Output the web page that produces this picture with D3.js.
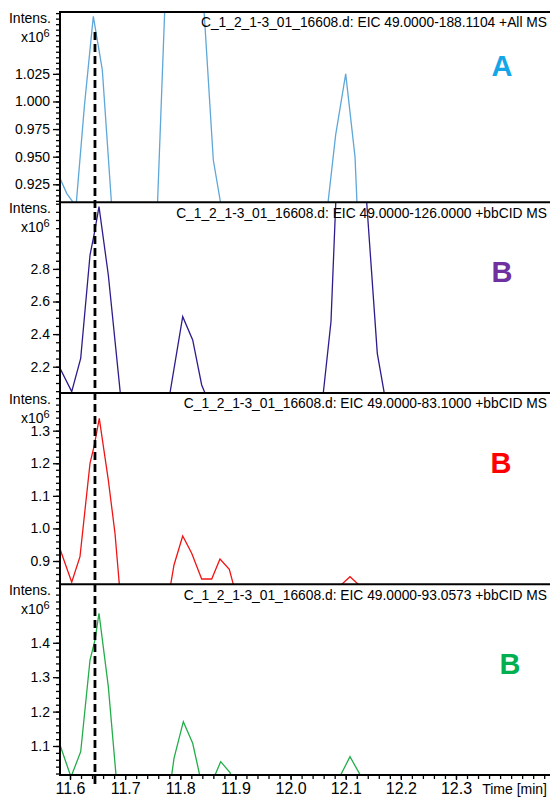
<!DOCTYPE html>
<html>
<head>
<meta charset="utf-8">
<script src="https://cdn.jsdelivr.net/npm/d3@7"></script>
<style>
  body { margin: 0; background: #fff; }
  svg text { font-family: "Liberation Sans", Arial, sans-serif; fill: #000; }
</style>
</head>
<body>
<svg id="chart" width="550" height="801"></svg>
<script>
// retention time (min) of each sample, intensity in units of 1e6
var timesA  = [11.5819, 11.5940, 11.6109, 11.6263, 11.6423, 11.6586, 11.6756, 11.695, 11.72, 11.74, 11.7578, 11.7754, 11.7922, 11.8086, 11.8249, 11.8421, 11.8599, 11.8769, 11.90, 12.00, 12.0652, 12.0818, 12.1000, 12.1169, 12.1341, 12.20, 12.30, 12.40, 12.48];
var valuesA = [0.9304, 0.9168, 0.905, 0.9969, 1.077, 1.0286, 0.905, 0.89, 0.885, 0.89, 0.895, 1.131, 1.6, 1.75, 1.45, 1.09, 0.947, 0.897, 0.88, 0.88, 0.8963, 0.9697, 1.025, 0.9498, 0.75, 0.86, 0.86, 0.86, 0.86];

var timesB1  = [11.5819, 11.6031, 11.6194, 11.6363, 11.6441, 11.6526, 11.6695, 11.6925, 11.72, 11.76, 11.7804, 11.8044, 11.8225, 11.8388, 11.8557, 11.95, 12.0561, 12.0733, 12.0906, 12.1078, 12.1250, 12.1368, 12.1573, 12.1745, 12.30, 12.48];
var valuesB1 = [2.19, 2.047, 2.2515, 2.885, 3.018, 3.182, 2.7626, 1.996, 1.95, 1.95, 2.02, 2.507, 2.364, 2.088, 1.95, 1.95, 1.936, 2.476, 3.934, 4.3, 4.1, 3.27, 2.282, 1.95, 1.95, 1.95];

var timesB2  = [11.5819, 11.6031, 11.6181, 11.6363, 11.6441, 11.6531, 11.6695, 11.6816, 11.6979, 11.74, 11.7723, 11.7886, 11.8044, 11.8207, 11.8388, 11.8570, 11.8720, 11.8889, 11.9056, 12.00, 12.0906, 12.1078, 12.1250, 12.20, 12.48];
var valuesB2 = [0.9368, 0.8347, 0.9132, 1.1997, 1.2558, 1.3377, 1.1485, 0.985, 0.66, 0.72, 0.726, 0.8877, 0.9767, 0.9236, 0.8448, 0.8448, 0.9061, 0.8745, 0.769, 0.76, 0.825, 0.8518, 0.825, 0.76, 0.76];

var timesB3  = [11.5819, 11.6018, 11.6194, 11.6363, 11.6453, 11.6526, 11.6695, 11.6865, 11.73, 11.7723, 11.7886, 11.8055, 11.8225, 11.8394, 11.8557, 11.8733, 11.8902, 11.9074, 12.00, 12.0897, 12.1078, 12.1277, 12.20, 12.48];
var valuesB3 = [1.1029, 1.01, 1.0834, 1.35, 1.408, 1.4858, 1.2724, 0.959, 0.95, 0.873, 1.0642, 1.1706, 1.1078, 0.985, 0.988, 1.0544, 1.0224, 0.943, 0.95, 1.012, 1.0689, 1.012, 0.95, 0.95];

var titles = [
  "C_1_2_1-3_01_16608.d: EIC 49.0000-188.1104 +All MS",
  "C_1_2_1-3_01_16608.d: EIC 49.0000-126.0000 +bbCID MS",
  "C_1_2_1-3_01_16608.d: EIC 49.0000-83.1000 +bbCID MS",
  "C_1_2_1-3_01_16608.d: EIC 49.0000-93.0573 +bbCID MS"
];
var letters = ["A", "B", "B", "B"];

var yDomains = [[0.9087, 1.081], [2.0387, 3.2086], [0.8285, 1.4156], [1.0157, 1.570]];
var yTicks = [[0.925, 0.950, 0.975, 1.000, 1.025], [2.2, 2.4, 2.6, 2.8], [0.9, 1.0, 1.1, 1.2, 1.3], [1.1, 1.2, 1.3, 1.4]];
var yMinorStep = [0.005, 0.05, 0.02, 0.02];
var yFormats = [".3f", ".1f", ".1f", ".1f"];

var xTicks = [11.6, 11.7, 11.8, 11.9, 12.0, 12.1, 12.2, 12.3];
var markerTime = 11.6453;

var traceColors = ["#5ea7d8", "#2d1c8c", "#f01414", "#22ad48"];
var letterColors = ["#15a6e8", "#7030a0", "#ff0000", "#00b050"];

var series = [
  {t: timesA, v: valuesA},
  {t: timesB1, v: valuesB1},
  {t: timesB2, v: valuesB2},
  {t: timesB3, v: valuesB3}
];

var left = 60, right = 550;
var panelTops = [12, 202.3, 393, 584.3];
var bottom = 775;
var letterPos = [[502, 76], [502, 282.3], [501, 473.3], [510, 674.3]];

var svg = d3.select("#chart");

var x = d3.scaleLinear()
  .domain([11.6 - 10 / 551.4, 11.6 + 480 / 551.4])
  .range([left, right]);

var defs = svg.append("defs");

series.forEach(function(s, i) {
  var top = panelTops[i];
  var bot = i < 3 ? panelTops[i + 1] : bottom;
  var y = d3.scaleLinear().domain(yDomains[i]).range([bot, top]);

  defs.append("clipPath").attr("id", "clip" + i)
    .append("rect").attr("x", left).attr("y", top)
    .attr("width", right - left).attr("height", bot - top);

  var g = svg.append("g");

  // minor ticks
  var minor = d3.range(Math.ceil(yDomains[i][0] / yMinorStep[i]), Math.floor(yDomains[i][1] / yMinorStep[i]) + 1)
    .map(function(k) { return k * yMinorStep[i]; });
  g.append("g").attr("transform", "translate(" + left + ",0)")
    .call(d3.axisLeft(y).tickValues(minor).tickSize(4).tickFormat(""))
    .call(function(a) { a.select(".domain").remove(); a.selectAll("line").attr("stroke-width", 1.3); });

  g.append("g").attr("transform", "translate(" + left + ",0)")
    .call(d3.axisLeft(y).tickValues(yTicks[i]).tickSize(7).tickPadding(3).tickFormat(d3.format(yFormats[i])))
    .call(function(a) {
      a.select(".domain").remove();
      a.selectAll("line").attr("stroke-width", 1.3);
      a.selectAll("text").style("font-size", "14px");
    });

  var line = d3.line().x(function(d, k) { return x(s.t[k]); }).y(function(d) { return y(d); });
  g.append("path").datum(s.v)
    .attr("clip-path", "url(#clip" + i + ")")
    .attr("fill", "none")
    .attr("stroke", traceColors[i])
    .attr("stroke-width", 1.3)
    .attr("d", line);

  // header texts
  g.append("text").attr("x", 51).attr("y", top + 11).attr("text-anchor", "end")
    .style("font-size", "14px").text("Intens.");
  g.append("text").attr("x", 43.5).attr("y", top + 29.5).attr("text-anchor", "end")
    .style("font-size", "14px").text("x10");
  g.append("text").attr("x", 43.5).attr("y", top + 24.5).style("font-size", "11px").text("6");

  g.append("text").attr("x", 547).attr("y", top + 15.3).attr("text-anchor", "end")
    .style("font-size", "13.8px").text(titles[i]);

  g.append("text").attr("x", letterPos[i][0]).attr("y", letterPos[i][1]).attr("text-anchor", "middle")
    .style("font-size", "29px").attr("font-weight", "bold")
    .style("fill", letterColors[i]).text(letters[i]);

  // panel top border
  g.append("line").attr("x1", left - 1).attr("x2", right).attr("y1", top).attr("y2", top)
    .attr("stroke", "#000").attr("stroke-width", 2);
});

// x axis
var xMinor = d3.range(0, 45).map(function(k) { return +(11.58 + k * 0.02).toFixed(2); })
  .filter(function(t) { return x(t) >= left && x(t) <= right; });
svg.append("g").attr("transform", "translate(0," + bottom + ")")
  .call(d3.axisBottom(x).tickValues(xMinor).tickSize(4).tickFormat(""))
  .call(function(a) { a.select(".domain").remove(); a.selectAll("line").attr("stroke-width", 1.3); });
svg.append("g").attr("transform", "translate(0," + bottom + ")")
  .call(d3.axisBottom(x).tickValues(xTicks).tickSize(5).tickPadding(3).tickFormat(d3.format(".1f")))
  .call(function(a) {
    a.select(".domain").remove();
    a.selectAll("line").attr("stroke-width", 1.3);
    a.selectAll("text").style("font-size", "16px");
  });
svg.append("text").attr("x", 547).attr("y", 794).attr("text-anchor", "end")
  .style("font-size", "14px").text("Time [min]");

svg.append("line").attr("x1", left - 1).attr("x2", right).attr("y1", bottom).attr("y2", bottom)
  .attr("stroke", "#000").attr("stroke-width", 2);
svg.append("line").attr("x1", left).attr("x2", left).attr("y1", 11).attr("y2", bottom + 1)
  .attr("stroke", "#000").attr("stroke-width", 2);

// retention time marker
svg.append("line")
  .attr("x1", x(markerTime)).attr("x2", x(markerTime))
  .attr("y1", 32).attr("y2", 786)
  .attr("stroke", "#000").attr("stroke-width", 2.8)
  .attr("stroke-dasharray", "8,4");
</script>
</body>
</html>
